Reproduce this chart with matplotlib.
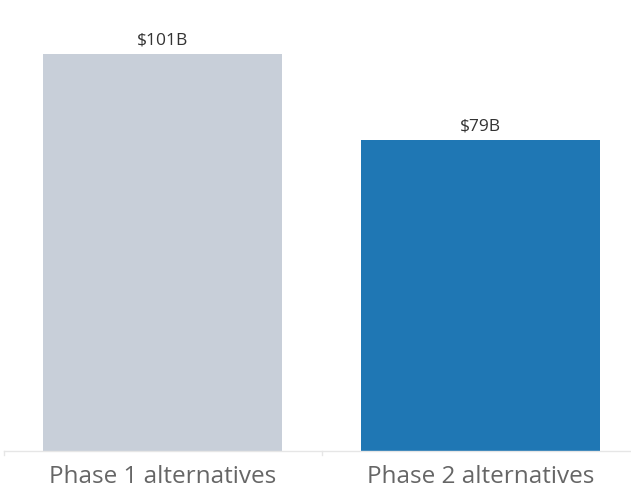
import matplotlib
matplotlib.use("Agg")
import matplotlib.pyplot as plt

categories = ["Phase 1 alternatives", "Phase 2 alternatives"]
values = [101, 79]
labels = ["$101B", "$79B"]
colors = ["#c8cfd9", "#1f77b4"]

W, H = 631, 489
fig = plt.figure(figsize=(W / 100, H / 100), dpi=100)
left_px, base_px = 3.5, 37
ax = fig.add_axes([left_px / W, base_px / H, 1 - left_px / W, 1 - base_px / H])
px = 115 / (H - base_px)  # data units per pixel on y

x = list(range(len(categories)))
ax.bar(x, values, width=0.75, color=colors, zorder=2)
for xi, v, lab in zip(x, values, labels):
    ax.text(xi, v + 11 * px, lab, ha="center", va="baseline", fontsize=12.5,
            color="#333333", family="Open Sans")

ax.set_xlim(-0.5, -0.5 + (W - left_px) / 318)
ax.set_ylim(0, 115)
ax.set_yticks([])
ax.set_xticks([])
for s in ["top", "right", "left"]:
    ax.spines[s].set_visible(False)
ax.spines["bottom"].set_color("#e6e6e6")
ax.spines["bottom"].set_linewidth(1)

# category dividers and labels below the baseline
for b in [-0.5, 0.5]:
    ax.plot([b, b], [0, -4 * px], color="#e6e6e6", lw=1, clip_on=False)
for xi, c in zip(x, categories):
    ax.text(xi, -31 * px, c, ha="center", va="baseline", fontsize=17.5,
            color="#666666", family="Open Sans", clip_on=False)

fig.savefig("out.png", dpi=100)
